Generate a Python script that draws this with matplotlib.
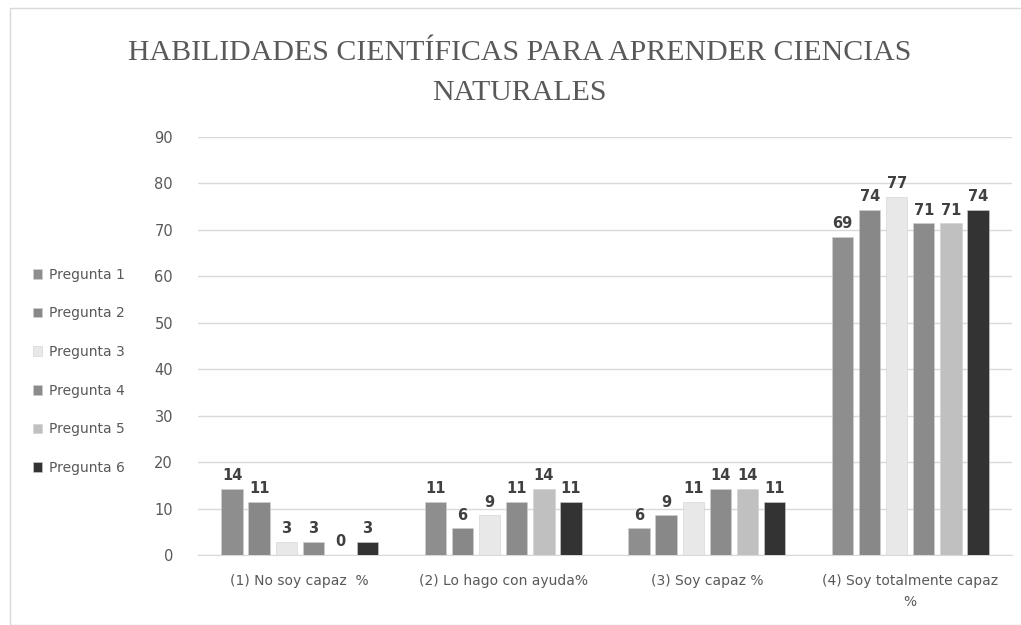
import matplotlib
matplotlib.use("Agg")
import matplotlib.pyplot as plt
import numpy as np
from matplotlib.patches import Rectangle

categories = ["(1) No soy capaz  %", "(2) Lo hago con ayuda%", "(3) Soy capaz %", "(4) Soy totalmente capaz\n%"]
series_names = ["Pregunta 1", "Pregunta 2", "Pregunta 3", "Pregunta 4", "Pregunta 5", "Pregunta 6"]
p1 = [14.29, 11.43, 5.71, 68.57]
p2 = [11.43, 5.71, 8.57, 74.29]
p3 = [2.86, 8.57, 11.43, 77.14]
p4 = [2.86, 11.43, 14.29, 71.43]
p5 = [0.0, 14.29, 14.29, 71.43]
p6 = [2.86, 11.43, 11.43, 74.29]
series = [p1, p2, p3, p4, p5, p6]
colors = ["#8e8e8e", "#888888", "#e8e8e8", "#8b8b8b", "#c0c0c0", "#333333"]
title = "HABILIDADES CIENTÍFICAS PARA APRENDER CIENCIAS\nNATURALES"

fig = plt.figure(figsize=(10.21, 6.25), dpi=100)
fig.patch.set_facecolor("white")
fig.add_artist(Rectangle((10/1021, 0), 1.2, (625-8)/625, transform=fig.transFigure,
                         fill=False, edgecolor="#d9d9d9", linewidth=1))

ax = fig.add_axes([198/1021, 70/625, 814/1021, 418/625])
x = np.arange(len(categories))
bw = 0.105
step = 0.133
handles = []
for i, (vals, c, name) in enumerate(zip(series, colors, series_names)):
    pos = x + (i - 2.5) * step
    b = ax.bar(pos, vals, width=bw, color=c, label=name, edgecolor="#d0d0d0", linewidth=0.4, zorder=3)
    handles.append(b)
    for xx, v in zip(pos, vals):
        ax.annotate(f"{v:.0f}", (xx, v), xytext=(0, 4), textcoords="offset points",
                    ha="center", va="bottom", fontsize=10.5, fontweight="bold", color="#404040")

ax.set_ylim(0, 90)
ax.set_xlim(-0.5, 3.5)
ax.set_yticks(range(0, 91, 10))
ax.yaxis.grid(True, color="#d9d9d9", linewidth=1, zorder=0)
ax.set_axisbelow(True)
for s in ["top", "right", "left"]:
    ax.spines[s].set_visible(False)
ax.spines["bottom"].set_color("#d9d9d9")
ax.tick_params(axis="both", length=0, colors="#595959", labelsize=10.5)
ax.tick_params(axis="y", pad=18)
ax.tick_params(axis="x", pad=14)
ax.set_xticks(x)
ax.set_xticklabels(categories, fontsize=10, color="#595959", linespacing=1.6)

fig.legend(handles=handles, labels=series_names, loc="upper left",
           bbox_to_anchor=(20/1021, (625-255)/625), frameon=False, fontsize=10,
           labelcolor="#595959", handlelength=0.7, handleheight=0.7, handletextpad=0.5,
           labelspacing=1.78)

fig.text(0.509, 0.884, title, ha="center", va="center", fontsize=21.5,
         family="Liberation Serif", color="#595959", linespacing=1.7)

fig.savefig("out.png", dpi=100)
